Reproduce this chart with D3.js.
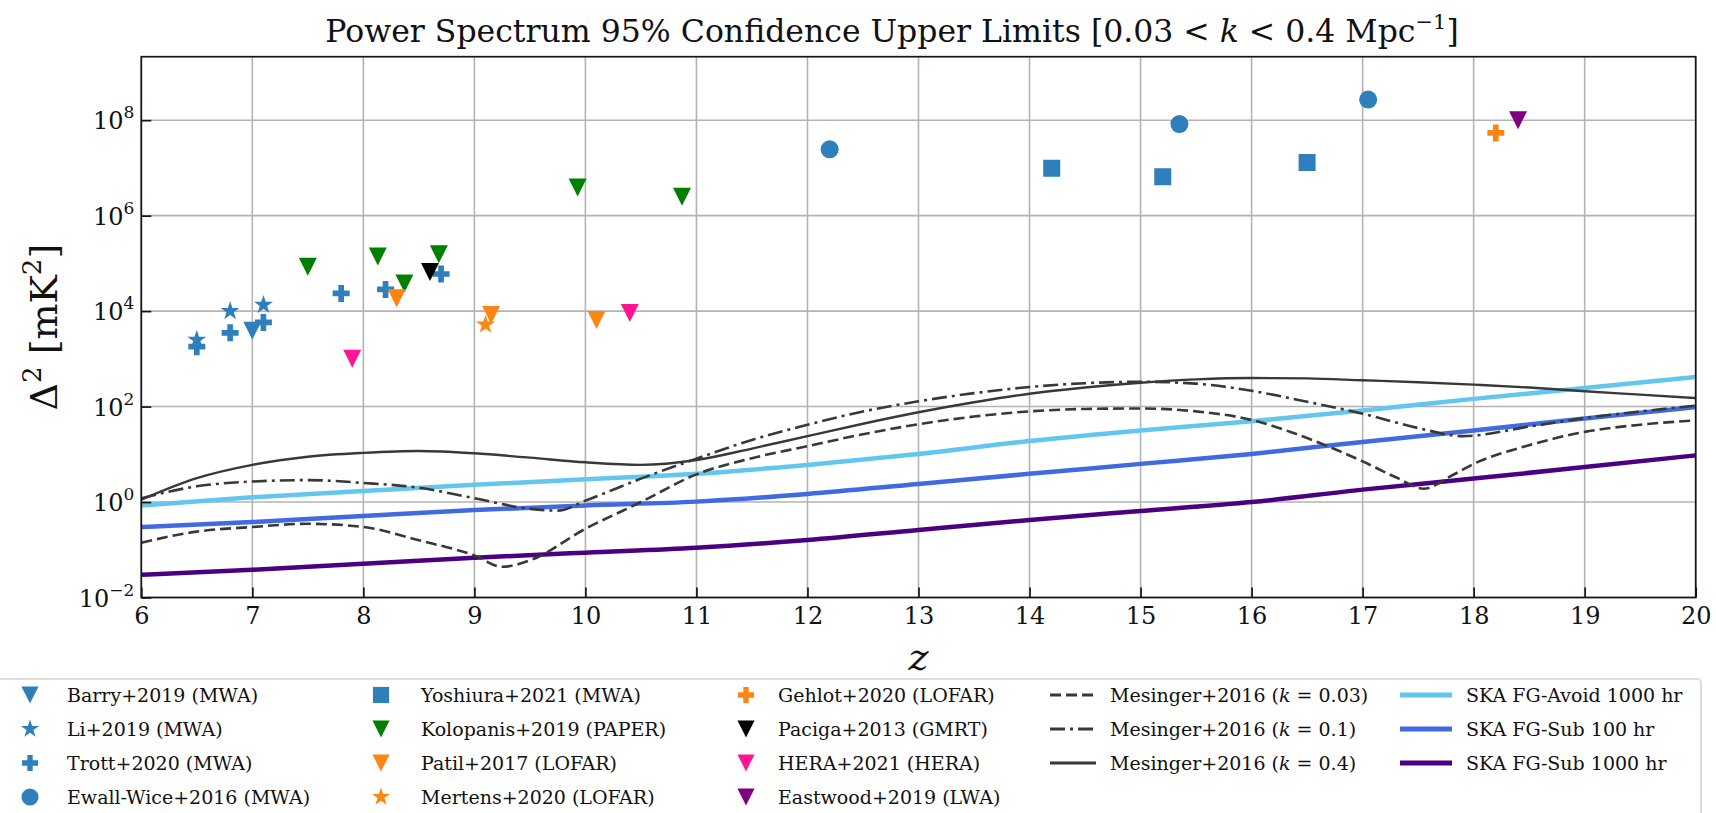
<!DOCTYPE html>
<html>
<head>
<meta charset="utf-8">
<script src="https://cdn.jsdelivr.net/npm/d3@7"></script>
<style>
  html, body { margin: 0; padding: 0; background: #fff; overflow: hidden; }
  svg text { font-family: "DejaVu Serif", "Liberation Serif", serif; fill: #111; }
</style>
</head>
<body>
<svg id="chart" width="1716" height="813"></svg>
<script>
// ---------- Model curves: Mesinger+2016 at three k values ----------
const mesingerK003Z = [6, 6.5, 7, 7.5, 8, 8.5, 9, 9.25, 9.5, 10, 10.5, 11, 11.5, 12, 12.5, 13, 13.5, 14, 14.5, 15, 15.5, 16, 16.5, 17, 17.3, 17.55, 17.8, 18, 18.5, 19, 19.5, 20];
const mesingerK003 = [0.141, 0.24, 0.30, 0.35, 0.30, 0.158, 0.076, 0.044, 0.060, 0.275, 1.0, 3.8, 8.3, 14.8, 26.3, 42.7, 61.7, 79.4, 89.1, 91.2, 79.4, 52.5, 21.9, 7.1, 3.3, 1.9, 3.55, 6.3, 15.5, 29.5, 41.7, 51.3];

const mesingerK01Z = [6, 6.5, 7, 7.5, 8, 8.5, 9, 9.5, 9.75, 10, 10.5, 11, 11.5, 12, 12.5, 13, 13.5, 14, 14.5, 15, 15.5, 16, 16.5, 17, 17.5, 17.9, 18.5, 19, 19.5, 20];
const mesingerK01 = [1.2, 2.14, 2.69, 2.88, 2.51, 2.0, 1.2, 0.72, 0.66, 1.07, 3.09, 8.1, 20, 41.7, 79, 129, 191, 257, 309, 331, 302, 214, 126, 71, 35.5, 24, 38, 57.5, 79, 105];

const mesingerK04Z = [6, 6.5, 7, 7.5, 8, 8.5, 9, 9.5, 10, 10.5, 11, 11.5, 12, 12.5, 13, 13.5, 14, 14.5, 15, 15.5, 16, 16.5, 17, 17.5, 18, 18.5, 19, 19.5, 20];
const mesingerK04 = [1.12, 3.16, 6.0, 8.9, 10.7, 11.7, 10.5, 8.5, 6.8, 6.0, 7.6, 13.2, 24, 43.7, 76, 123, 186, 251, 316, 372, 398, 389, 355, 324, 288, 251, 209, 178, 151];

// ---------- SKA sensitivity curves ----------
const skaZ = [6, 7, 8, 9, 10, 11, 12, 13, 14, 15, 16, 17, 18, 19, 20];
const skaAvoid1000 = [0.85, 1.26, 1.70, 2.29, 3.0, 3.9, 6.0, 10.2, 19, 31.6, 49, 83, 145, 245, 417];
const skaSub100 = [0.30, 0.38, 0.51, 0.68, 0.85, 1.02, 1.48, 2.4, 3.9, 6.3, 10.2, 18.2, 31.6, 56, 98];
const skaSub1000 = [0.030, 0.038, 0.051, 0.068, 0.087, 0.11, 0.16, 0.26, 0.42, 0.65, 1.0, 1.82, 3.1, 5.4, 9.5];

// ---------- Published upper limits: [z, Δ² in mK²] ----------
const barry2019 = [[7.0, 3.9e3]];
const li2019 = [[6.5, 2.5e3], [6.8, 1.0e4], [7.1, 1.35e4]];
const trott2020 = [[6.5, 1.8e3], [6.8, 3.5e3], [7.1, 5.8e3], [7.8, 2.35e4], [8.2, 2.85e4], [8.7, 6.0e4]];
const ewallWice2016 = [[12.2, 2.45e7], [15.35, 8.3e7], [17.05, 2.7e8]];
const yoshiura2021 = [[14.2, 9.8e6], [15.2, 6.5e6], [16.5, 1.3e7]];
const kolopanis2019 = [[7.5, 8.5e4], [8.13, 1.4e5], [8.37, 3.8e4], [8.68, 1.55e5], [9.93, 3.9e6], [10.87, 2.5e6]];
const patil2017 = [[8.3, 1.85e4], [9.15, 8.3e3], [10.1, 6.5e3]];
const mertens2020 = [[9.1, 5.2e3]];
const gehlot2020 = [[18.2, 5.4e7]];
const paciga2013 = [[8.6, 6.6e4]];
const hera2021 = [[7.9, 1.0e3], [10.4, 9.1e3]];
const eastwood2019 = [[18.4, 1.0e8]];

// ---------- Axis ticks ----------
const xTicks = [6, 7, 8, 9, 10, 11, 12, 13, 14, 15, 16, 17, 18, 19, 20];
const yTickExps = [-2, 0, 2, 4, 6, 8];

// ---------- Colours ----------
const cMWA = "#2f7fbc", cPAPER = "#008000", cLOFAR = "#ff8512", cGMRT = "#000000",
      cHERA = "#ff1493", cLWA = "#800080", cModel = "#383838",
      cAvoid = "#62c6ee", cSub100 = "#4169e1", cSub1000 = "#4b0082";

// ---------- Layout ----------
const svg = d3.select("#chart");
const plot = { left: 141.3, right: 1695.7, top: 56.7, bottom: 597.5 };

const x = d3.scaleLinear().domain([6, 20]).range([plot.left, plot.right]);
const y = d3.scaleLog().domain([1e-2, Math.pow(10, 9.33)]).range([plot.bottom, plot.top]);

svg.append("defs").append("clipPath").attr("id", "plotClip")
  .append("rect").attr("x", plot.left).attr("y", plot.top)
  .attr("width", plot.right - plot.left).attr("height", plot.bottom - plot.top);

// grid
const grid = svg.append("g").attr("stroke", "#b3b3b3").attr("stroke-width", 1.6);
xTicks.forEach(t => grid.append("line").attr("x1", x(t)).attr("x2", x(t)).attr("y1", plot.top).attr("y2", plot.bottom));
yTickExps.forEach(e => grid.append("line").attr("x1", plot.left).attr("x2", plot.right).attr("y1", y(Math.pow(10, e))).attr("y2", y(Math.pow(10, e))));

// model + sensitivity curves
const curves = svg.append("g").attr("clip-path", "url(#plotClip)").attr("fill", "none");
const lineGen = d3.line().x(d => x(d[0])).y(d => y(d[1])).curve(d3.curveMonotoneX);
const zip = (zs, vs) => zs.map((z, i) => [z, vs[i]]);

const dashPattern = "11,5";
const dashDotPattern = "15,5,3,5";

const curveDefs = [
  { zs: skaZ, vs: skaSub1000, color: cSub1000, w: 4.5, dash: null },
  { zs: skaZ, vs: skaSub100, color: cSub100, w: 4.5, dash: null },
  { zs: skaZ, vs: skaAvoid1000, color: cAvoid, w: 4.5, dash: null },
  { zs: mesingerK003Z, vs: mesingerK003, color: cModel, w: 2.6, dash: dashPattern },
  { zs: mesingerK01Z, vs: mesingerK01, color: cModel, w: 2.6, dash: dashDotPattern },
  { zs: mesingerK04Z, vs: mesingerK04, color: cModel, w: 2.4, dash: null }
];
curveDefs.forEach(c => {
  const p = curves.append("path").attr("d", lineGen(zip(c.zs, c.vs)))
    .attr("stroke", c.color).attr("stroke-width", c.w);
  if (c.dash) p.attr("stroke-dasharray", c.dash);
});

// marker shapes
const S = 18;
const shapes = {
  triDown: s => `M0,${s / 2}L${-s / 2},${-s / 2}L${s / 2},${-s / 2}Z`,
  square: s => `M${-s / 2},${-s / 2}h${s}v${s}h${-s}Z`,
  circle: s => d3.symbol(d3.symbolCircle, Math.PI * (s / 2) * (s / 2))(),
  star: s => d3.symbol(d3.symbolStar, (s / 2) * (s / 2) / 0.8908130915292852)(),
  plus: s => {
    const a = s / 2, t = s / 6;
    return `M${-t},${-a}H${t}V${-t}H${a}V${t}H${t}V${a}H${-t}V${t}H${-a}V${-t}H${-t}Z`;
  }
};

const pointSets = [
  { data: barry2019, shape: "triDown", size: S, color: cMWA, label: "Barry+2019 (MWA)" },
  { data: li2019, shape: "star", size: 20, color: cMWA, label: "Li+2019 (MWA)" },
  { data: trott2020, shape: "plus", size: 17, color: cMWA, label: "Trott+2020 (MWA)" },
  { data: ewallWice2016, shape: "circle", size: 18, color: cMWA, label: "Ewall-Wice+2016 (MWA)" },
  { data: yoshiura2021, shape: "square", size: 17, color: cMWA, label: "Yoshiura+2021 (MWA)" },
  { data: kolopanis2019, shape: "triDown", size: S, color: cPAPER, label: "Kolopanis+2019 (PAPER)" },
  { data: patil2017, shape: "triDown", size: S, color: cLOFAR, label: "Patil+2017 (LOFAR)" },
  { data: mertens2020, shape: "star", size: 20, color: cLOFAR, label: "Mertens+2020 (LOFAR)" },
  { data: gehlot2020, shape: "plus", size: 17, color: cLOFAR, label: "Gehlot+2020 (LOFAR)" },
  { data: paciga2013, shape: "triDown", size: S, color: cGMRT, label: "Paciga+2013 (GMRT)" },
  { data: hera2021, shape: "triDown", size: S, color: cHERA, label: "HERA+2021 (HERA)" },
  { data: eastwood2019, shape: "triDown", size: S, color: cLWA, label: "Eastwood+2019 (LWA)" }
];

const pts = svg.append("g").attr("clip-path", "url(#plotClip)");
pointSets.forEach(ps => {
  pts.selectAll(null).data(ps.data).enter().append("path")
    .attr("d", shapes[ps.shape](ps.size))
    .attr("transform", d => `translate(${x(d[0])},${y(d[1])})`)
    .attr("fill", ps.color);
});

// frame and inward ticks
const axisG = svg.append("g");
axisG.append("rect").attr("x", plot.left).attr("y", plot.top)
  .attr("width", plot.right - plot.left).attr("height", plot.bottom - plot.top)
  .attr("fill", "none").attr("stroke", "#151515").attr("stroke-width", 1.7);

const xAxis = d3.axisBottom(x).tickValues(xTicks).tickSizeInner(-10).tickSizeOuter(0).tickPadding(22).tickFormat(d3.format("d"));
const gx = axisG.append("g").attr("transform", `translate(0,${plot.bottom})`).call(xAxis);
gx.select(".domain").remove();
gx.selectAll(".tick line").attr("stroke", "#151515").attr("stroke-width", 1.7);
gx.selectAll(".tick text").attr("font-size", 24).attr("font-family", "DejaVu Serif").attr("fill", "#111").attr("dy", "0.2em");

const yAxis = d3.axisLeft(y).tickValues(yTickExps.map(e => Math.pow(10, e))).tickSizeInner(-10).tickSizeOuter(0).tickFormat("");
const gy = axisG.append("g").attr("transform", `translate(${plot.left},0)`).call(yAxis);
gy.select(".domain").remove();
gy.selectAll(".tick line").attr("stroke", "#151515").attr("stroke-width", 1.7);

// y tick labels as 10^n
yTickExps.forEach(e => {
  const t = axisG.append("text").attr("x", plot.left - 7).attr("y", y(Math.pow(10, e)) + 9)
    .attr("text-anchor", "end").attr("font-size", 24);
  t.append("tspan").text("10");
  t.append("tspan").attr("font-size", 17).attr("dy", -11).text(e < 0 ? "\u2212" + Math.abs(e) : String(e));
});

// title
const title = svg.append("text").attr("x", 892).attr("y", 42).attr("text-anchor", "middle").attr("font-size", 31.5);
title.append("tspan").text("Power Spectrum 95% Confidence Upper Limits [0.03 < ");
title.append("tspan").attr("font-style", "italic").text("k");
title.append("tspan").text(" < 0.4 Mpc");
title.append("tspan").attr("font-size", 21).attr("dy", -13).text("\u22121");
title.append("tspan").attr("dy", 13).text("]");

// axis labels
const yl = svg.append("text").attr("transform", `translate(57,${(plot.top + plot.bottom) / 2}) rotate(-90)`)
  .attr("text-anchor", "middle").attr("font-size", 38);
yl.append("tspan").text("\u0394");
yl.append("tspan").attr("font-size", 26).attr("dy", -16).text("2");
yl.append("tspan").attr("dy", 16).text(" [mK");
yl.append("tspan").attr("font-size", 26).attr("dy", -16).text("2");
yl.append("tspan").attr("dy", 16).text("]");

svg.append("text").attr("x", (plot.left + plot.right) / 2).attr("y", 670)
  .attr("text-anchor", "middle").attr("font-size", 38).attr("font-style", "italic").text("z");

// ---------- Legend ----------
const leg = svg.append("g");
leg.append("rect").attr("x", -6).attr("y", 679).attr("width", 1707).attr("height", 160)
  .attr("rx", 4).attr("fill", "#fff").attr("fill-opacity", 0.85).attr("stroke", "#dcdcdc").attr("stroke-width", 2);

const rowY = [695, 729, 763, 797];
const markerCols = [30, 381, 746];
const textCols = [67, 421, 778];
pointSets.forEach((ps, i) => {
  const col = Math.floor(i / 4), row = i % 4;
  leg.append("path").attr("d", shapes[ps.shape](ps.size * 0.95))
    .attr("transform", `translate(${markerCols[col]},${rowY[row]})`).attr("fill", ps.color);
  leg.append("text").attr("x", textCols[col]).attr("y", rowY[row] + 7).attr("font-size", 19).text(ps.label);
});

const lineLegend = [
  { col: 3, row: 0, color: cModel, w: 2.8, dash: dashPattern, k: "0.03" },
  { col: 3, row: 1, color: cModel, w: 2.8, dash: dashDotPattern, k: "0.1" },
  { col: 3, row: 2, color: cModel, w: 2.8, dash: null, k: "0.4" },
  { col: 4, row: 0, color: cAvoid, w: 5, dash: null, label: "SKA FG-Avoid 1000 hr" },
  { col: 4, row: 1, color: cSub100, w: 5, dash: null, label: "SKA FG-Sub 100 hr" },
  { col: 4, row: 2, color: cSub1000, w: 5, dash: null, label: "SKA FG-Sub 1000 hr" }
];
const lineCols = { 3: [1050, 1096, 1110], 4: [1400, 1452, 1466] };
lineLegend.forEach(l => {
  const [x0, x1, tx] = lineCols[l.col];
  const ln = leg.append("line").attr("x1", x0).attr("x2", x1).attr("y1", rowY[l.row]).attr("y2", rowY[l.row])
    .attr("stroke", l.color).attr("stroke-width", l.w);
  if (l.dash) ln.attr("stroke-dasharray", l.dash);
  const t = leg.append("text").attr("x", tx).attr("y", rowY[l.row] + 7).attr("font-size", 19);
  if (l.k) {
    t.append("tspan").text("Mesinger+2016 (");
    t.append("tspan").attr("font-style", "italic").text("k");
    t.append("tspan").text(" = " + l.k + ")");
  } else {
    t.text(l.label);
  }
});
</script>
</body>
</html>
